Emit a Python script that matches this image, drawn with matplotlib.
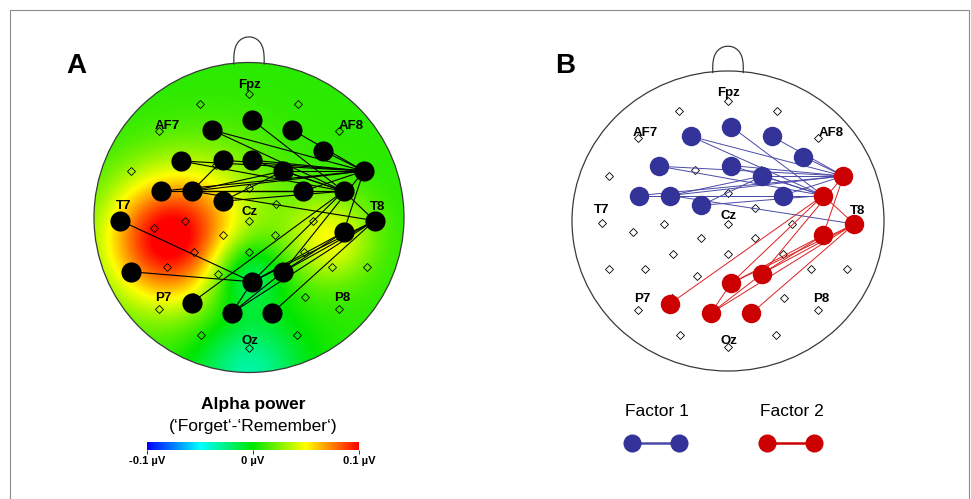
import numpy as np
import matplotlib.pyplot as plt
import matplotlib as mpl
from matplotlib.colors import LinearSegmentedColormap, Normalize
from matplotlib.patches import Circle, Rectangle

W, H = 971, 499
plt.rcParams['font.family'] = ['Liberation Sans', 'DejaVu Sans']

# ----- electrode grid (normalised head coords, nose up) -----
GRID_X = [0, -0.316, 0.316, -0.58, 0.58, -0.76, 0.76, -0.21, 0.21,
          0, -0.175, 0.175, -0.81, 0.81, -0.41, 0, 0.41, -0.61, 0.61,
          -0.17, 0.17, -0.355, 0, 0.355, -0.76, -0.53, -0.2, 0.2, 0.535, 0.76,
          -0.36, 0.36, -0.58, 0.58, -0.31, 0.31, 0]
GRID_Y = [0.80, 0.735, 0.735, 0.555, 0.555, 0.30, 0.30, 0.34, 0.34,
          0.19, 0.085, 0.085, -0.01, -0.01, -0.02, -0.02, -0.02, -0.07, -0.07,
          -0.115, -0.115, -0.22, -0.22, -0.22, -0.32, -0.32, -0.365, -0.365, -0.32, -0.32,
          -0.51, -0.51, -0.59, -0.59, -0.76, -0.76, -0.84]

LABELS = ['Fpz', 'AF7', 'AF8', 'T7', 'Cz', 'T8', 'P7', 'P8', 'Oz']
LABEL_X = [0.006, -0.53, 0.66, -0.81, 0.006, 0.83, -0.55, 0.60, 0.006]
LABEL_Y = [0.855, 0.59, 0.59, 0.074, 0.035, 0.068, -0.52, -0.52, -0.80]

# ----- network nodes -----
NODE_X = [0.02, -0.24, 0.28, 0.48, -0.44, -0.17, 0.02, 0.22, 0.74, -0.57, -0.37,
          0.35, 0.61, -0.17, 0.81, -0.83, 0.61, 0.22, 0.02, -0.76, -0.37, -0.11, 0.15]
NODE_Y = [0.63, 0.565, 0.565, 0.43, 0.365, 0.37, 0.37, 0.30, 0.30, 0.17, 0.17,
          0.17, 0.17, 0.105, -0.02, -0.02, -0.095, -0.35, -0.415, -0.35, -0.55, -0.615, -0.615]

NODES_F1 = [0, 1, 2, 3, 4, 6, 7, 9, 10, 11, 13]
NODES_F2 = [8, 12, 14, 16, 17, 18, 20, 21, 22]

EDGES_F1 = [(0, 12), (1, 8), (1, 12), (2, 8), (3, 8), (4, 8), (4, 12), (6, 8), (6, 12),
            (7, 8), (7, 12), (9, 11), (9, 12), (9, 8), (10, 11), (10, 12), (10, 7),
            (10, 8), (10, 14), (11, 8), (13, 7), (13, 12)]
EDGES_F2 = [(12, 20), (12, 18), (8, 17), (17, 21), (8, 16), (12, 14), (14, 22),
            (16, 17), (16, 18), (14, 17), (14, 18), (14, 21), (18, 21)]
EDGES_A_ONLY = [(15, 18), (19, 18), (5, 8), (5, 10)]

# ----- alpha power topography ('Forget' - 'Remember'), as sources in uV -----
BASE = 0.008
SRC_X = [-0.52, 0.52, -0.03, 0.0, -0.15]
SRC_Y = [-0.15, -0.14, -0.36, -1.0, 0.15]
SRC_AMP = [0.095, 0.04, -0.04, -0.04, 0.015]
SRC_W = [0.30, 0.20, 0.17, 0.25, 0.30]

CB_TICKS = [-0.1, 0, 0.1]
CB_LABELS = ['-0.1 µV', '0 µV', '0.1 µV']

BLUE, BLUE_LINE = '#333399', '#4a4aa8'
RED, RED_LINE = '#cc0000', '#dd2020'

cmap = LinearSegmentedColormap.from_list(
    'topo', [(0, '#0000ff'), (0.25, '#00ffff'), (0.5, '#00e600'),
             (0.75, '#ffff00'), (1, '#ff0000')])
norm = Normalize(-0.1, 0.1)

fig = plt.figure(figsize=(W / 100, H / 100), dpi=100)
fig.patches.append(Rectangle((9.5 / W, -0.05), 959 / W, 1 - 9.5 / H + 0.05,
                             transform=fig.transFigure, fill=False,
                             edgecolor='#8c8c8c', linewidth=0.8))


def head_axes(cx, cy, rx, ry):
    ext = 1.3
    ax = fig.add_axes([(cx - ext * rx) / W, 1 - (cy + ext * ry) / H,
                       2 * ext * rx / W, 2 * ext * ry / H])
    ax.set_xlim(-ext, ext)
    ax.set_ylim(-ext, ext)
    ax.axis('off')
    # outline + nose
    ax.add_patch(Circle((0, 0), 1, fill=False, edgecolor='#3a3a3a', lw=0.9, zorder=5))
    t = np.linspace(0, np.pi, 60)
    ax.plot(0.098 * np.cos(t), 0.99 + 0.175 * np.sin(t) ** 0.6,
            color='#3a3a3a', lw=0.9)
    ax.plot(GRID_X, GRID_Y, 'D', ms=3.6, mfc='none', mec='k', mew=0.6, zorder=2)
    for name, x, y in zip(LABELS, LABEL_X, LABEL_Y):
        ax.text(x, y, name, fontsize=9.5, fontweight='bold', ha='center',
                va='center', zorder=6)
    return ax


def edge(ax, i, j, color, lw=0.7):
    ax.plot([NODE_X[i], NODE_X[j]], [NODE_Y[i], NODE_Y[j]], color=color,
            lw=lw, zorder=3, solid_capstyle='round')


# ----- Panel A -----
axA = head_axes(249, 217.5, 155, 155)
gx, gy = np.meshgrid(np.linspace(-1, 1, 400), np.linspace(-1, 1, 400))
val = np.full_like(gx, BASE)
for sx, sy, a, w in zip(SRC_X, SRC_Y, SRC_AMP, SRC_W):
    val += a * np.exp(-((gx - sx) ** 2 + (gy - sy) ** 2) / (2 * w ** 2))
im = axA.imshow(val, extent=(-1, 1, -1, 1), origin='lower', cmap=cmap,
                norm=norm, interpolation='bilinear', zorder=1)
clip = Circle((0, 0), 1, transform=axA.transData)
im.set_clip_path(clip)
for i, j in EDGES_F1 + EDGES_F2 + EDGES_A_ONLY:
    edge(axA, i, j, 'k', 0.8)
axA.plot(NODE_X, NODE_Y, 'o', ms=14.5, color='k', mew=0, zorder=4)

# ----- Panel B -----
axB = head_axes(728, 221, 156, 150)
for i, j in EDGES_F1:
    edge(axB, i, j, BLUE_LINE)
for i, j in EDGES_F2:
    edge(axB, i, j, RED_LINE)
axB.plot([NODE_X[k] for k in NODES_F1], [NODE_Y[k] for k in NODES_F1], 'o',
         ms=14, color=BLUE, mew=0, zorder=4)
axB.plot([NODE_X[k] for k in NODES_F2], [NODE_Y[k] for k in NODES_F2], 'o',
         ms=14, color=RED, mew=0, zorder=4)

# ----- panel letters -----
fig.text(76 / W, 1 - 66 / H, 'A', fontsize=20, fontweight='bold', ha='center', va='center')
fig.text(565 / W, 1 - 66 / H, 'B', fontsize=20, fontweight='bold', ha='center', va='center')

# ----- colour bar -----
fig.text(253 / W, 1 - 404 / H, 'Alpha power', fontsize=12.5, fontweight='bold',
         ha='center', va='center')
fig.text(253 / W, 1 - 426 / H, '(\u2018Forget\u2018-\u2018Remember\u2018)',
         fontsize=12.5, ha='center', va='center')
cax = fig.add_axes([147 / W, 1 - 450 / H, 212 / W, 8 / H])
cb = mpl.colorbar.ColorbarBase(cax, cmap=cmap, norm=norm, orientation='horizontal',
                               ticks=CB_TICKS)
cb.outline.set_visible(False)
cb.set_ticklabels(CB_LABELS)
cax.tick_params(length=3, width=0.7, pad=1.5, labelsize=8, color='#333333')
for lab in cax.get_xticklabels():
    lab.set_fontweight('bold')

# ----- factor legend -----
lax = fig.add_axes([600 / W, 1 - 470 / H, 250 / W, 80 / H])
lax.set_xlim(600, 850)
lax.set_ylim(470, 390)
lax.axis('off')
for label, color, lcolor, x0 in [('Factor 1', BLUE, BLUE_LINE, 632),
                                 ('Factor 2', RED, RED, 767)]:
    lax.plot([x0, x0 + 47], [443, 443], color=lcolor, lw=1.8, zorder=1)
    lax.plot([x0, x0 + 47], [443, 443], 'o', ms=13, color=color, mew=0, zorder=2)
    lax.text(x0 + 25, 412, label, fontsize=12.5, ha='center', va='center')

fig.savefig('out.png', dpi=100)
